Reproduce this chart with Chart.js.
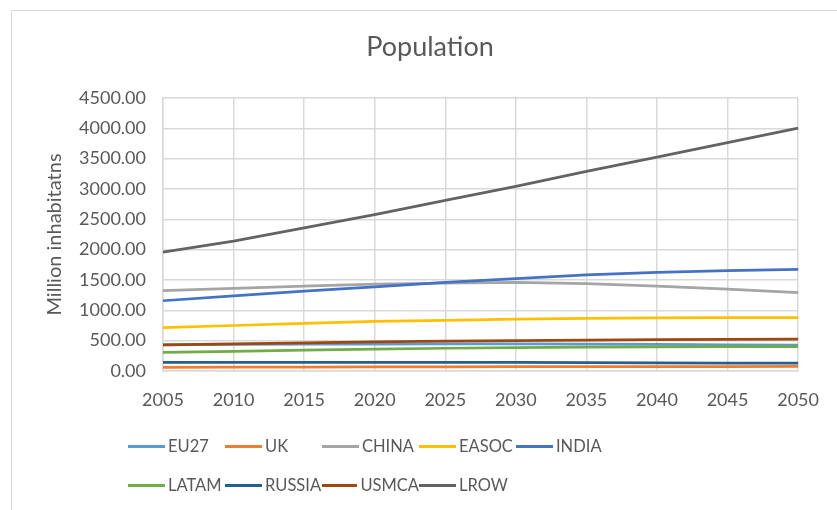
<!DOCTYPE html>
<html>
<head>
<meta charset="utf-8">
<title>Population</title>
<script src="https://cdn.jsdelivr.net/npm/chart.js@4/dist/chart.umd.min.js"></script>
<style>
  html, body { margin: 0; padding: 0; background: #fff; overflow: hidden; }
  #wrap { position: relative; width: 837px; height: 510px; }
  #frame {
    position: absolute; left: 11px; top: 10px; width: 900px; height: 600px;
    border: 1.5px solid #d9d9d9; box-sizing: border-box;
  }
  #chart { position: absolute; left: 0; top: 0; }
  #legend {
    position: absolute; left: 128px; top: 434px;
    display: grid; grid-template-columns: repeat(5, 97px); row-gap: 15px;
    font-family: Lato, sans-serif; font-size: 16.5px; color: #595959;
  }
  .item { display: flex; align-items: center; height: 24px; white-space: nowrap; }
  .swatch { width: 37px; height: 3px; margin-right: 3px; }
</style>
</head>
<body>
<div id="wrap">
  <div id="frame"></div>
  <canvas id="chart" width="837" height="510"></canvas>
  <div id="legend"></div>
</div>
<script>
// Population projections by region, million inhabitants
const years = ['2005', '2010', '2015', '2020', '2025', '2030', '2035', '2040', '2045', '2050'];

const eu27   = [432, 437, 441, 445, 447, 446, 443, 438, 432, 425];
const uk     = [61, 63, 65, 67, 69, 71, 72, 73, 74, 75];
const china  = [1325, 1360, 1400, 1430, 1450, 1460, 1440, 1400, 1350, 1290];
const easoc  = [716, 750, 783, 816, 835, 855, 866, 875, 878, 878];
const india  = [1158, 1240, 1318, 1385, 1460, 1522, 1583, 1627, 1655, 1676];
const latam  = [305, 325, 345, 362, 375, 385, 392, 398, 400, 402];
const russia = [143, 142, 143, 144, 143, 141, 138, 134, 131, 129];
const usmca  = [430, 448, 465, 480, 492, 502, 510, 516, 520, 524];
const lrow   = [1960, 2140, 2360, 2578, 2813, 3043, 3290, 3525, 3766, 4002];

const seriesNames = ['EU27', 'UK', 'CHINA', 'EASOC', 'INDIA', 'LATAM', 'RUSSIA', 'USMCA', 'LROW'];
const seriesData = [eu27, uk, china, easoc, india, latam, russia, usmca, lrow];
const seriesColors = ['#5B9BD5', '#ED7D31', '#A5A5A5', '#FFC000', '#4472C4', '#70AD47', '#255E91', '#9E480E', '#636363'];

const textColor = '#595959';
const gridColor = '#d9d9d9';

const datasets = seriesNames.map((name, i) => ({
  label: name,
  data: seriesData[i],
  borderColor: seriesColors[i],
  backgroundColor: seriesColors[i],
  borderWidth: 2.75,
  pointRadius: 0,
  tension: 0,
  // later series sit on top
  order: seriesNames.length - i
}));

// Title centred on the outer chart frame rather than the canvas
const frameTitle = {
  id: 'frameTitle',
  afterDraw(chart) {
    const c = chart.ctx;
    c.save();
    c.fillStyle = textColor;
    c.font = '27px Lato';
    c.textAlign = 'center';
    c.textBaseline = 'alphabetic';
    c.fillText('Population', 430, 56);
    c.restore();
  }
};

const ctx = document.getElementById('chart');
new Chart(ctx, {
  type: 'line',
  data: { labels: years, datasets: datasets },
  plugins: [frameTitle],
  options: {
    responsive: false,
    animation: false,
    layout: { padding: { left: 0, right: 34, top: 98, bottom: 0 } },
    plugins: {
      legend: { display: false },
      tooltip: { enabled: false },
      title: { display: false }
    },
    scales: {
      x: {
        offset: false,
        grid: { color: gridColor, lineWidth: 1.5, drawTicks: false },
        border: { color: gridColor, width: 1.5 },
        ticks: {
          color: textColor, padding: 18, maxRotation: 0, autoSkip: false,
          font: { family: 'Lato', size: 18 }
        },
        afterFit: (scale) => { scale.height = 139; }
      },
      y: {
        min: 0,
        max: 4500,
        grid: { color: gridColor, lineWidth: 1.5, drawTicks: false },
        border: { color: gridColor, width: 1.5 },
        ticks: {
          stepSize: 500, color: textColor, padding: 17,
          font: { family: 'Lato', size: 18 },
          callback: (v) => Number(v).toFixed(2)
        },
        title: {
          display: true,
          text: 'Million inhabitatns',
          color: textColor,
          font: { family: 'Lato', size: 20 },
          padding: { top: 43, bottom: 0 }
        },
        afterFit: (scale) => { scale.width = 163; }
      }
    }
  }
});

// Legend laid out in fixed columns below the plot
const legendEl = document.getElementById('legend');
legendEl.innerHTML = seriesNames.map((name, i) => `
  <div class="item">
    <span class="swatch" style="background:${seriesColors[i]}"></span>${name}
  </div>
`).join('');
</script>
</body>
</html>
